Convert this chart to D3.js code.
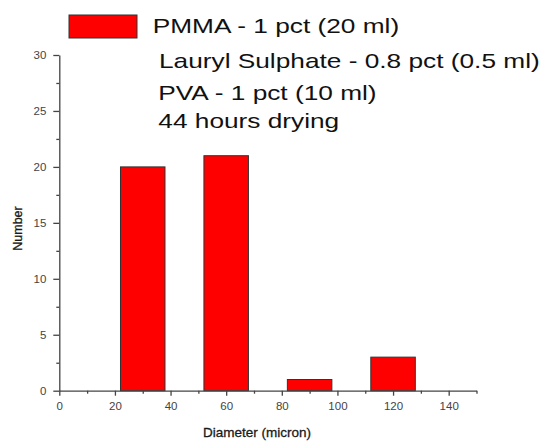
<!DOCTYPE html>
<html>
<head>
<meta charset="utf-8">
<script src="https://cdn.jsdelivr.net/npm/d3@7"></script>
<style>
  html, body { margin: 0; padding: 0; background: #fff; }
  svg { display: block; font-family: Arial, "Liberation Sans", sans-serif; }
</style>
</head>
<body>
<svg id="chart" width="544" height="441"></svg>
<script>
// ---- data ----
const binCenters = [30, 60, 90, 120];          // Diameter (micron)
const counts = [20, 21, 1, 3];                  // Number
const xTicks = [0, 20, 40, 60, 80, 100, 120, 140];
const xMinorTicks = [10, 30, 50, 70, 90, 110, 130, 150];
const yTicks = [0, 5, 10, 15, 20, 25, 30];
const yMinorTicks = [2.5, 7.5, 12.5, 17.5, 22.5, 27.5];
const legendLines = [
  "PMMA - 1 pct (20 ml)",
  "Lauryl Sulphate - 0.8 pct (0.5 ml)",
  "PVA - 1 pct (10 ml)",
  "44 hours drying"
];
const xTitle = "Diameter (micron)";
const yTitle = "Number";

// ---- layout ----
const svg = d3.select("#chart");
const binWidth = 16; // data units
const x = d3.scaleLinear().domain([0, 150]).range([59.3, 476.5]);
const y = d3.scaleLinear().domain([0, 30]).range([390.7, 55]);
const axisColor = "#444";

// bars
svg.append("g").selectAll("rect").data(binCenters).join("rect")
  .attr("x", d => x(d - binWidth / 2))
  .attr("width", d => x(d + binWidth / 2) - x(d - binWidth / 2))
  .attr("y", (d, i) => y(counts[i]))
  .attr("height", (d, i) => y(0) - y(counts[i]))
  .attr("fill", "#ff0000")
  .attr("stroke", "#333")
  .attr("stroke-width", 1);

function styleAxis(g) {
  g.select(".domain").attr("stroke", axisColor).attr("stroke-width", 1.3);
  g.selectAll(".tick line").attr("stroke", axisColor).attr("stroke-width", 1.3);
  g.selectAll(".tick text").attr("fill", "#444")
    .attr("font-size", "11.5px")
    .attr("font-family", "Arial, 'Liberation Sans', sans-serif");
}

// x axis minor
svg.append("g").attr("transform", `translate(0,${y(0)})`)
  .call(d3.axisBottom(x).tickValues(xMinorTicks).tickSize(3).tickFormat(""))
  .call(g => { g.select(".domain").remove(); g.selectAll(".tick line").attr("stroke", axisColor).attr("stroke-width", 1.3); });
// x axis major
svg.append("g").attr("transform", `translate(0,${y(0)})`)
  .call(d3.axisBottom(x).tickValues(xTicks).tickSize(5).tickSizeOuter(0).tickPadding(6).tickFormat(d3.format("d")))
  .call(styleAxis);

// y axis minor
svg.append("g").attr("transform", `translate(${x(0)},0)`)
  .call(d3.axisLeft(y).tickValues(yMinorTicks).tickSize(3).tickFormat(""))
  .call(g => { g.select(".domain").remove(); g.selectAll(".tick line").attr("stroke", axisColor).attr("stroke-width", 1.3); });
// y axis major
svg.append("g").attr("transform", `translate(${x(0)},0)`)
  .call(d3.axisLeft(y).tickValues(yTicks).tickSize(6).tickSizeOuter(0).tickPadding(7).tickFormat(d3.format("d")))
  .call(styleAxis);

// axis titles
svg.append("text")
  .attr("x", 257).attr("y", 436.5)
  .attr("text-anchor", "middle")
  .attr("font-size", "13.5px")
  .attr("fill", "#1a1a1a")
  .attr("stroke", "#1a1a1a").attr("stroke-width", 0.3)
  .text(xTitle);

svg.append("text")
  .attr("transform", "translate(21.5,228.5) rotate(-90)")
  .attr("text-anchor", "middle")
  .attr("font-size", "12.5px")
  .attr("fill", "#1a1a1a")
  .attr("stroke", "#1a1a1a").attr("stroke-width", 0.3)
  .text(yTitle);

// legend
svg.append("rect")
  .attr("x", 69).attr("y", 15).attr("width", 68).attr("height", 23)
  .attr("fill", "#ff0000").attr("stroke", "#333").attr("stroke-width", 1);

const legendPos = [[152.7, 33.3], [159, 67.5], [158.3, 99.5], [158.3, 127.5]];
svg.append("g").selectAll("text").data(legendLines).join("text")
  .attr("transform", (d, i) => `translate(${legendPos[i][0]},${legendPos[i][1]}) scale(1.25,1)`)
  .attr("font-size", "21px")
  .attr("fill", "#111")
  .text(d => d);
</script>
</body>
</html>
